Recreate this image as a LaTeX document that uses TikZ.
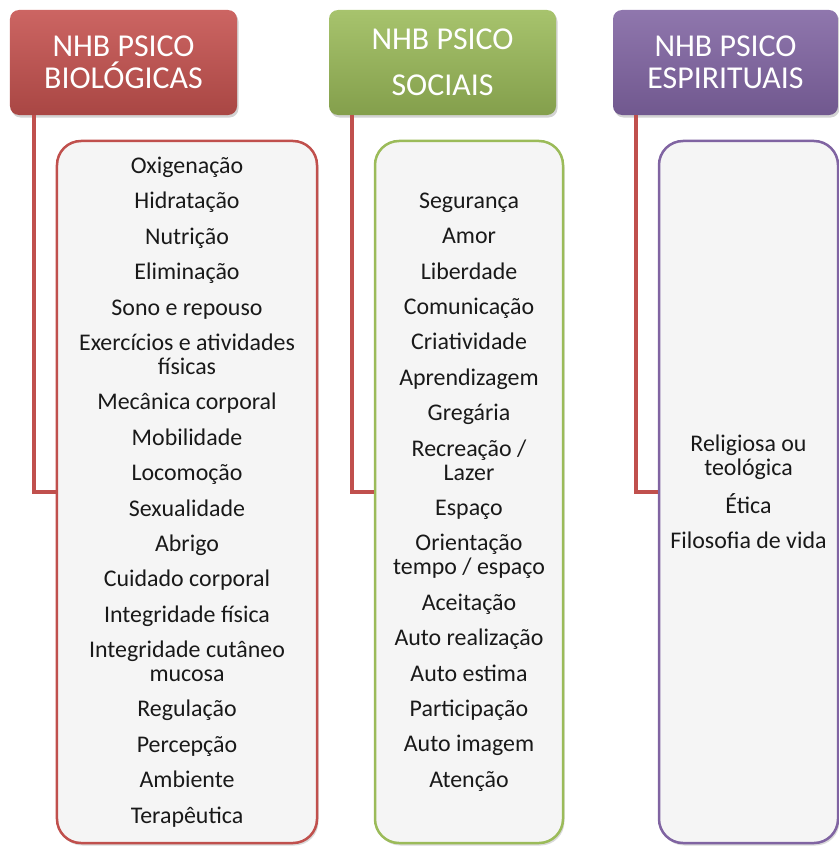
\documentclass[tikz,border=0pt]{standalone}
\usepackage{fontspec}
\setmainfont{Carlito}
\usetikzlibrary{positioning,shadows}
\definecolor{bred}{HTML}{C0504D}
\definecolor{sgreen}{HTML}{9BBB59}
\definecolor{epurple}{HTML}{8064A2}
\definecolor{lgray}{HTML}{F5F5F5}

\begin{document}
\begin{tikzpicture}[x=1bp, y=1bp,
    head/.style={rounded corners=9bp, minimum height=105bp, text=white,
      align=center, font=\fontsize{32}{32}\selectfont,
      drop shadow={opacity=0.35, shadow xshift=1.5bp, shadow yshift=-2.5bp}},
    list/.style={draw, line width=2.5bp, rounded corners=24bp, fill=lgray,
      minimum height=702bp, align=center, text=black!90,
      font=\fontsize{24}{24}\selectfont,
      drop shadow={opacity=0.3, shadow xshift=1.5bp, shadow yshift=-2.5bp}},
    link/.style={draw=bred, line width=4bp}]
    \useasboundingbox (0,0) rectangle (839,-846);

    % headers
    \node[head, minimum width=227bp, top color=bred!85!white!95!red, bottom color=bred!88!black]
      (hbio) at (123.5,-62.5) {NHB PSICO\\BIOLÓGICAS};
    \node[head, minimum width=227bp, top color=sgreen!88!white, bottom color=sgreen!85!black]
      (hsoc) at (442.5,-62.5) {NHB PSICO\\[14bp]SOCIAIS};
    \node[head, minimum width=225bp, top color=epurple!88!white, bottom color=epurple!88!black]
      (hesp) at (725.5,-62.5) {NHB PSICO\\ESPIRITUAIS};

    % lists
    \node[list, draw=bred, minimum width=260bp] (bbio) at (187,-492) {%
      Oxigenação\\[11.5bp] Hidratação\\[11.5bp] Nutrição\\[11.5bp]
      Eliminação\\[11.5bp] Sono e repouso\\[11.5bp]
      Exercícios e atividades\\ físicas\\[11.5bp]
      Mecânica corporal\\[11.5bp] Mobilidade\\[11.5bp] Locomoção\\[11.5bp]
      Sexualidade\\[11.5bp] Abrigo\\[11.5bp] Cuidado corporal\\[11.5bp]
      Integridade física\\[11.5bp] Integridade cutâneo\\ mucosa\\[11.5bp]
      Regulação\\[11.5bp] Percepção\\[11.5bp] Ambiente\\[11.5bp] Terapêutica};
    \node[list, draw=sgreen, minimum width=188bp] (bsoc) at (469,-492) {%
      Segurança\\[11.5bp] Amor\\[11.5bp] Liberdade\\[11.5bp]
      Comunicação\\[11.5bp] Criatividade\\[11.5bp] Aprendizagem\\[11.5bp]
      Gregária\\[11.5bp] Recreação /\\ Lazer\\[11.5bp] Espaço\\[11.5bp]
      Orientação\\ tempo / espaço\\[11.5bp] Aceitação\\[11.5bp]
      Auto realização\\[11.5bp] Auto estima\\[11.5bp] Participação\\[11.5bp]
      Auto imagem\\[11.5bp] Atenção};
    \node[list, draw=epurple, minimum width=179bp] (besp) at (748.5,-492) {%
      Religiosa ou\\ teológica\\[13bp] Ética\\[11.5bp] Filosofia de vida};

    % connectors
    \draw[link] ([xshift=24bp]hbio.south west) |- (bbio.west);
    \draw[link] ([xshift=23bp]hsoc.south west) |- (bsoc.west);
    \draw[link] ([xshift=23bp]hesp.south west) |- (besp.west);
\end{tikzpicture}
\end{document}
